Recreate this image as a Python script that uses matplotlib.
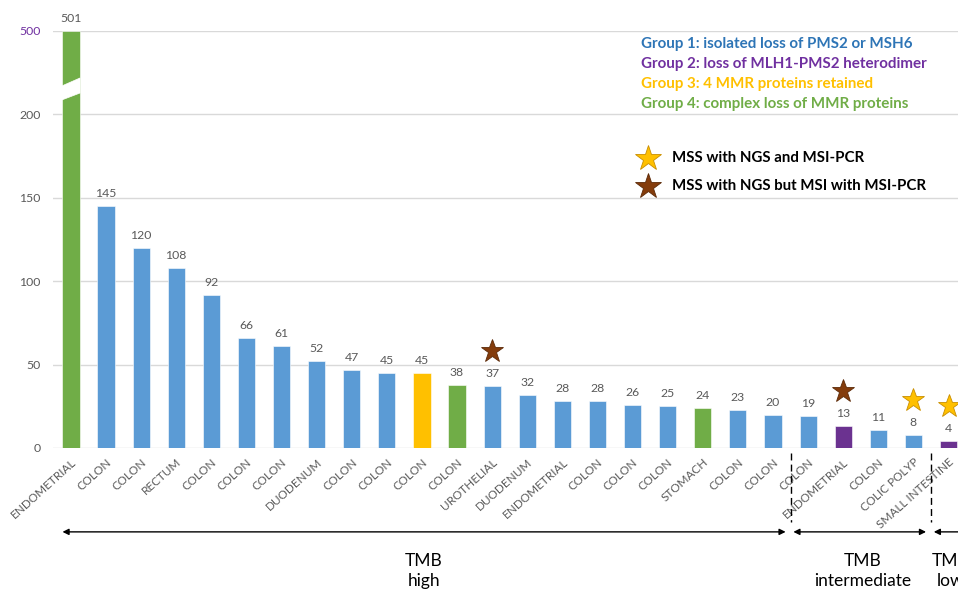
import numpy as np
import matplotlib
matplotlib.use("Agg")
import matplotlib.pyplot as plt
from matplotlib.patches import Polygon
from matplotlib.transforms import ScaledTranslation

plt.rcParams['font.family'] = ['Lato', 'DejaVu Sans']

# data
sites = ["ENDOMETRIAL", "COLON", "COLON", "RECTUM", "COLON", "COLON", "COLON",
         "DUODENUM", "COLON", "COLON", "COLON", "COLON", "UROTHELIAL", "DUODENUM",
         "ENDOMETRIAL", "COLON", "COLON", "COLON", "STOMACH", "COLON", "COLON",
         "COLON", "ENDOMETRIAL", "COLON", "COLIC POLYP", "SMALL INTESTINE"]
tmb = [501, 145, 120, 108, 92, 66, 61, 52, 47, 45, 45, 38, 37, 32, 28, 28, 26,
       25, 24, 23, 20, 19, 13, 11, 8, 4]
group = [4, 1, 1, 1, 1, 1, 1, 1, 1, 1, 3, 4, 1, 1, 1, 1, 1, 1, 4, 1, 1, 1, 2, 1, 1, 2]

star_idx = [12, 22, 24, 25]
star_kind = ["msi_pcr", "msi_pcr", "mss", "mss"]

tmb_labels = ["TMB\nhigh", "TMB\nintermediate", "TMB\nlow"]
tmb_first = [0, 21, 25]
tmb_last = [20, 24, 25]

group_text = ["Group 1: isolated loss of PMS2 or MSH6",
              "Group 2: loss of MLH1-PMS2 heterodimer",
              "Group 3: 4 MMR proteins retained",
              "Group 4: complex loss of MMR proteins"]
star_text = ["MSS with NGS and MSI-PCR", "MSS with NGS but MSI with MSI-PCR"]

# colours
bar_col = {1: "#5B9BD5", 2: "#6B3290", 3: "#FFC000", 4: "#70AD47"}
txt_col = {1: "#2E75B6", 2: "#7030A0", 3: "#FFC000", 4: "#70AD47"}
star_face = {"mss": "#FFC000", "msi_pcr": "#843C0C"}
star_edge = {"mss": "#C98E00", "msi_pcr": "#5C2A08"}
grey = "#595959"

# broken axis: 0-200 linear, above 200 compressed
def fwd(y):
    y = np.asarray(y, dtype=float)
    return np.where(y <= 200, y, 200 + (y - 200) / 6.0)

def inv(y):
    y = np.asarray(y, dtype=float)
    return np.where(y <= 200, y, 200 + (y - 200) * 6.0)

fig = plt.figure(figsize=(9.58, 5.94), dpi=100)
ax = fig.add_axes([53 / 958, 146 / 594, 1 - 53 / 958, 417.3 / 594])
ax.set_yscale('function', functions=(fwd, inv))

x = np.arange(len(tmb))
cols = [bar_col[g] for g in group]
ax.bar(x, tmb, width=0.49, color=cols, edgecolor="white", linewidth=0.4, zorder=2)

ax.set_xlim(-0.51, 25.27)
ax.set_ylim(0, 501)
ax.set_yticks([0, 50, 100, 150, 200, 500])
ax.set_yticklabels(["0", "50", "100", "150", "200", "500"])
ax.tick_params(axis='y', length=0, pad=9, labelsize=8.8, labelcolor=grey)
ax.get_yticklabels()[-1].set_color("#7030A0")
ax.grid(axis='y', color="#D9D9D9", linewidth=1, zorder=0)
for s in ax.spines.values():
    s.set_visible(False)

ax.set_xticks(x)
ax.set_xticklabels(sites, rotation=42, ha='right', va='top',
                   rotation_mode='anchor', fontsize=8.5, color=grey)
ax.tick_params(axis='x', length=0, pad=6)

# value labels
for xi, v in zip(x, tmb):
    ax.annotate(str(v), (xi, v), xytext=(0, 5), textcoords='offset points',
                ha='center', va='bottom', fontsize=8.8, color=grey)

# break in the first bar
tr = ax.get_xaxis_transform()
brk = Polygon([(-0.26, 0.834), (-0.26, 0.8675), (0.26, 0.8867), (0.26, 0.8507)],
              closed=True, facecolor="white", edgecolor="white", lw=0.5,
              transform=tr, zorder=3)
ax.add_patch(brk)

# stars above bars
star_shift = ScaledTranslation(0, 35 / 100, fig.dpi_scale_trans)
for i, k in zip(star_idx, star_kind):
    ax.plot([x[i]], [tmb[i]], linestyle='none', marker='*', markersize=17,
            markerfacecolor=star_face[k], markeredgecolor=star_edge[k],
            markeredgewidth=0.6, clip_on=False, zorder=4,
            transform=ax.transData + star_shift)

# TMB categories
for lab, a, b in zip(tmb_labels, tmb_first, tmb_last):
    left = a - 0.24 if a == 0 else a - 0.42
    right = b + 1.5 if b == len(tmb) - 1 else b + 0.36
    ax.annotate("", xy=(right, -0.201), xytext=(left, -0.201), xycoords=tr,
                textcoords=tr, annotation_clip=False,
                arrowprops=dict(arrowstyle='<|-|>', color='black', lw=1,
                                mutation_scale=9, shrinkA=0, shrinkB=0))
    ax.text((a + b) / 2 + 0.06, -0.295, lab, transform=tr, ha='center',
            va='center', fontsize=12.5, linespacing=1.3, clip_on=False)
    if a > 0:
        ax.plot([a - 0.5, a - 0.5], [-0.012, -0.177], transform=tr,
                color='black', linestyle=(0, (5, 3)), lw=1, clip_on=False)

# group legend
for j, t in enumerate(group_text):
    fig.text(641 / 958, 1 - (44 + 20 * j) / 594, t, color=txt_col[j + 1],
             fontsize=10.9, fontweight='bold', va='center', ha='left')

# star legend
for j, (k, t) in enumerate(zip(["mss", "msi_pcr"], star_text)):
    yy = 1 - (158 + 28 * j) / 594
    fig.add_artist(plt.Line2D([648 / 958], [yy], linestyle='none', marker='*',
                              markersize=19, markerfacecolor=star_face[k],
                              markeredgecolor=star_edge[k], markeredgewidth=0.6,
                              transform=fig.transFigure))
    fig.text(672 / 958, yy, t, color='black', fontsize=10.8,
             fontweight='bold', va='center', ha='left')

fig.savefig("out.png", dpi=100)
